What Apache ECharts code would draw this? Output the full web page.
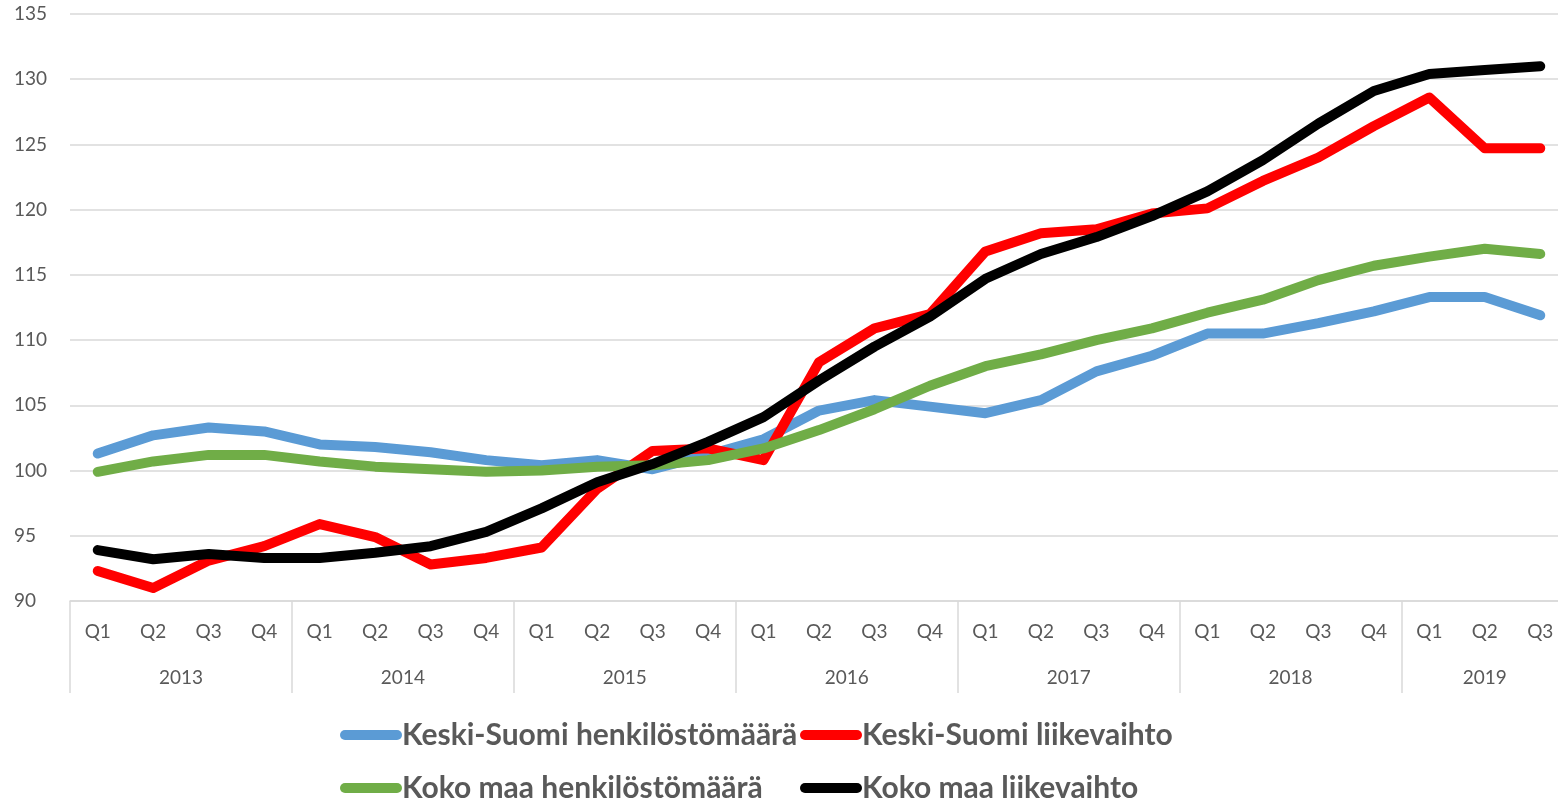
<!DOCTYPE html>
<html>
<head>
<meta charset="utf-8">
<script src="https://cdn.jsdelivr.net/npm/echarts@6/dist/echarts.min.js"></script>
<style>html,body{margin:0;padding:0;background:#fff;}#c{width:1558px;height:802px;}</style>
</head>
<body>
<div id="c"></div>
<script>
const quarters = ['Q1','Q2','Q3','Q4','Q1','Q2','Q3','Q4','Q1','Q2','Q3','Q4','Q1','Q2','Q3','Q4','Q1','Q2','Q3','Q4','Q1','Q2','Q3','Q4','Q1','Q2','Q3'];
const years = ['2013','2014','2015','2016','2017','2018','2019'];
const yearCenters = [1.5, 5.5, 9.5, 13.5, 17.5, 21.5, 25];
const yearSeparators = [-0.5, 3.5, 7.5, 11.5, 15.5, 19.5, 23.5, 26.5];
const yTicks = [90, 95, 100, 105, 110, 115, 120, 125, 130, 135];

const seriesNames = ['Keski-Suomi henkilöstömäärä','Keski-Suomi liikevaihto','Koko maa henkilöstömäärä','Koko maa liikevaihto'];
const ksHenkilosto = [101.3,102.7,103.3,103.0,102.0,101.8,101.4,100.8,100.4,100.8,100.1,101.2,102.4,104.6,105.4,104.9,104.4,105.4,107.6,108.8,110.5,110.5,111.3,112.2,113.3,113.3,111.9];
const ksLiikevaihto = [92.3,91.0,93.1,94.2,95.9,94.9,92.8,93.3,94.1,98.6,101.5,101.7,100.8,108.3,110.9,112.0,116.8,118.2,118.5,119.7,120.1,122.2,124.0,126.4,128.6,124.7,124.7];
const kmHenkilosto = [99.9,100.7,101.2,101.2,100.7,100.3,100.1,99.9,100.0,100.3,100.4,100.8,101.7,103.1,104.7,106.5,108.0,108.9,110.0,110.9,112.1,113.1,114.6,115.7,116.4,117.0,116.6];
const kmLiikevaihto = [93.9,93.2,93.6,93.3,93.3,93.7,94.2,95.3,97.1,99.1,100.5,102.2,104.1,106.9,109.5,111.8,114.7,116.6,117.9,119.5,121.4,123.8,126.6,129.1,130.4,130.7,131.0];
const colors = ['#5B9BD5','#FF0000','#70AD47','#000000'];

const FONT = 'Lato, "Open Sans", sans-serif';
const pill = 'path://M5,0 L57,0 A5,5 0 0 1 57,10 L5,10 A5,5 0 0 1 5,0 Z';

function mkSeries(name, data, color) {
  return {
    name: name, type: 'line', data: data, xAxisIndex: 0, yAxisIndex: 0,
    showSymbol: false, symbol: 'none', smooth: false,
    lineStyle: { color: color, width: 10, cap: 'round', join: 'round' },
    itemStyle: { color: color },
    emphasis: { disabled: true }, animation: false
  };
}

function mkLegend(left, top, name) {
  return {
    orient: 'horizontal',
    left: left, top: top, padding: 0,
    icon: pill,
    itemWidth: 62,
    itemHeight: 11,
    selectedMode: false,
    data: [name],
    textStyle: { fontFamily: FONT, fontSize: 30, fontWeight: 'bold', color: '#595959', lineHeight: 28, padding: [0,0,0,-5] }
  };
}

const chart = echarts.init(document.getElementById('c'), null, { renderer: 'canvas' });
chart.setOption({
  animation: false,
  backgroundColor: '#ffffff',
  grid: { left: 70, width: 1498, top: 14, bottom: 201, containLabel: false, outerBoundsMode: 'none' },
  legend: [
    mkLegend(340, 720, seriesNames[0]),
    mkLegend(800, 720, seriesNames[1]),
    mkLegend(340, 773, seriesNames[2]),
    mkLegend(800, 773, seriesNames[3])
  ],
  xAxis: [
    {
      type: 'category', data: quarters, boundaryGap: true, position: 'bottom',
      axisLine: { show: true, lineStyle: { color: '#D9D9D9', width: 1.5 } },
      axisTick: { show: false },
      axisLabel: { color: '#595959', fontFamily: FONT, fontSize: 19, margin: 21, interval: 0 },
      splitLine: { show: false }
    },
    {
      type: 'value', min: -0.5, max: 26.5, position: 'bottom',
      axisLine: { show: false },
      axisTick: { show: true, customValues: yearSeparators, length: 92, inside: false, lineStyle: { color: '#D9D9D9', width: 1.5 } },
      axisLabel: { show: true, customValues: yearCenters, color: '#595959', fontFamily: FONT, fontSize: 19, margin: 67,
        formatter: function (v) { const i = yearCenters.indexOf(v); return i >= 0 ? years[i] : ''; } },
      splitLine: { show: false }
    }
  ],
  yAxis: {
    type: 'value', min: yTicks[0], max: yTicks[yTicks.length - 1], interval: 5,
    axisLine: { show: false }, axisTick: { show: false },
    axisLabel: { color: '#595959', fontFamily: FONT, fontSize: 19, align: 'left', margin: 56 },
    splitLine: { lineStyle: { color: '#D9D9D9', width: 1.5 } }
  },
  series: [
    mkSeries(seriesNames[0], ksHenkilosto, colors[0]),
    mkSeries(seriesNames[1], ksLiikevaihto, colors[1]),
    mkSeries(seriesNames[2], kmHenkilosto, colors[2]),
    mkSeries(seriesNames[3], kmLiikevaihto, colors[3])
  ]
});
</script>
</body>
</html>
